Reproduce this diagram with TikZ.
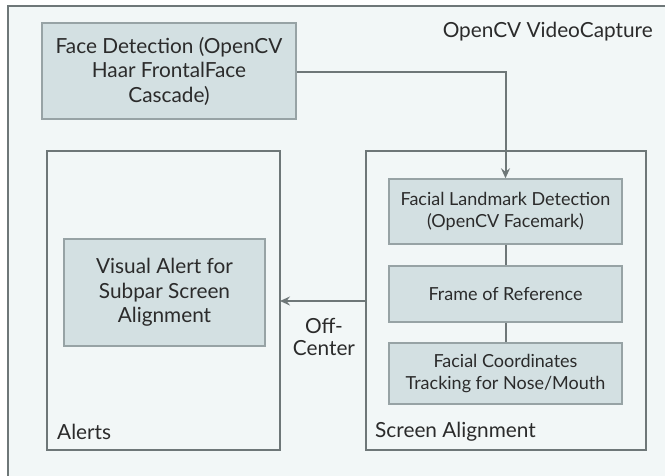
\documentclass[tikz,border=0pt]{standalone}
\usepackage{fontspec}
\setmainfont{Lato}
\usetikzlibrary{arrows.meta}
\definecolor{bgc}{HTML}{F2F7F7}
\definecolor{boxfill}{HTML}{D3E0E2}
\definecolor{boxline}{HTML}{97A3A5}
\definecolor{contline}{HTML}{6E7778}
\definecolor{txt}{HTML}{2B2B2B}
\tikzset{
  procbox/.style={draw=boxline, fill=boxfill, line width=1.5pt, inner sep=0pt, align=center, text=txt},
  bigtext/.style={font=\fontsize{20.8}{24.5}\selectfont},
  offtext/.style={font=\fontsize{20.8}{22.5}\selectfont},
  smalltext/.style={font=\fontsize{18}{22}\selectfont},
  container/.style={draw=contline, line width=1.8pt},
  lbl/.style={text=txt, inner sep=0pt},
  flow/.style={draw=contline, line width=2pt},
  tip/.style={-{Stealth[length=10pt,width=9pt,inset=3.5pt]}}
}
\begin{document}
\begin{tikzpicture}[x=1pt,y=-1pt]
\useasboundingbox (0,0) rectangle (665,475);
\clip (0,0) rectangle (665,475);
\fill[white] (0,0) rectangle (665,475);
\draw[draw=contline, fill=bgc, line width=2.2pt] (8,6) rectangle (700,520);
% containers
\draw[container] (47,151) rectangle (280,450);
\draw[container] (366,151) rectangle (646,450);
\coordinate (alertsE) at (280,301);
\coordinate (screenW) at (366,301);
% title
\node[lbl, bigtext, anchor=east] (title) at (653,32) {OpenCV VideoCapture};
% boxes
\node[procbox, bigtext, minimum width=254pt, minimum height=96pt] (face) at (169,71) {Face Detection (OpenCV\\Haar FrontalFace\\Cascade)};
\node[procbox, bigtext, minimum width=201pt, minimum height=107pt] (visual) at (164.5,292.5) {Visual Alert for\\Subpar Screen\\Alignment};
\node[procbox, smalltext, minimum width=233pt, minimum height=65pt] (land) at (505.5,211.5) {Facial Landmark Detection\\(OpenCV Facemark)};
\node[procbox, smalltext, minimum width=233pt, minimum height=56pt] (frame) at (505.5,294) {Frame of Reference};
\node[procbox, smalltext, minimum width=233pt, minimum height=61pt] (coords) at (505.5,373.5) {Facial Coordinates\\Tracking for Nose/Mouth};
% labels
\node[lbl, bigtext, anchor=west] (alertsL) at (57,432) {Alerts};
\node[lbl, bigtext, anchor=west] (screenL) at (375,432) {Screen Alignment};
\node[lbl, offtext, align=center] (offc) at (324,337) {Off-\\Center};
% connectors
\draw[flow, tip] (face.east |- 0,72) -| (land.north);
\draw[flow] (land.south) -- (frame.north);
\draw[flow] (frame.south) -- (coords.north);
\draw[flow, tip] (screenW) -- (alertsE);
\end{tikzpicture}
\end{document}
